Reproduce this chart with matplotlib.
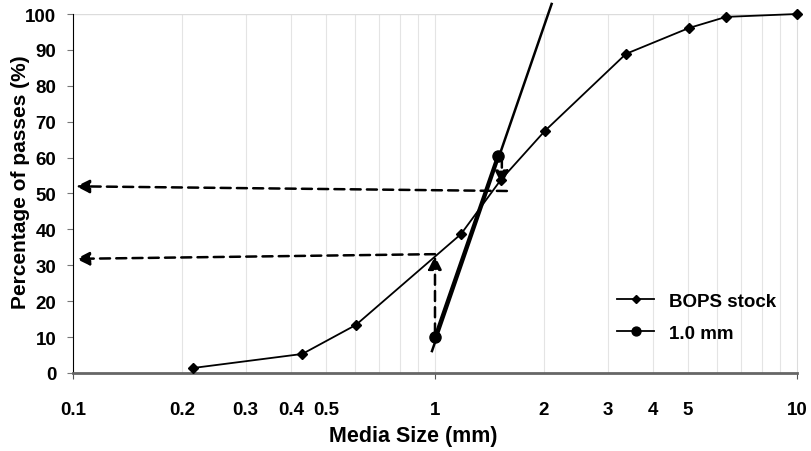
import numpy as np
import matplotlib.pyplot as plt

# ==========================================
# データ
# ==========================================

bops_size = [0.215, 0.43, 0.605, 1.18, 1.52, 2.01, 3.37, 5.03, 6.37, 10.0]
bops_pass = [1.4, 5.3, 13.4, 38.7, 53.8, 67.4, 88.9, 96.1, 99.2, 100.0]

mm_size = [1.0, 1.49]
mm_pass = [10.0, 60.4]

# 接線 (延長線)
tangent_size = [0.981, 2.10]
tangent_pass = [6.1, 102.8]

# 破線矢印 (始点x, 始点y, 終点x, 終点y)
arrow_from_x = [1.58, 1.0, 1.0, 1.53]
arrow_from_y = [50.7, 33.1, 11.0, 60.0]
arrow_to_x = [0.102, 0.102, 1.0, 1.53]
arrow_to_y = [52.0, 31.8, 32.6, 52.5]

major_x = [0.1, 1, 10]
major_labels = ["0.1", "1", "10"]
minor_x = [0.2, 0.3, 0.4, 0.5, 2, 3, 4, 5]
minor_labels = ["0.2", "0.3", "0.4", "0.5", "2", "3", "4", "5"]

# ==========================================
# 描画
# ==========================================

plt.rcParams["font.family"] = ["Liberation Sans", "DejaVu Sans"]
plt.rcParams["font.weight"] = "bold"

fig = plt.figure(figsize=(8.12, 4.52), dpi=100)
ax = fig.add_axes([0.0899, 0.1726, 0.8916, 0.7942])

ax.set_xscale("log")
ax.set_xlim(0.1, 10)
ax.set_ylim(0, 100)

# 縦グリッド
for dec in [0.1, 1]:
    for k in range(2, 10):
        ax.axvline(dec * k, color="#e4e4e4", lw=0.8, zorder=0)
ax.axvline(1, color="#e4e4e4", lw=0.8, zorder=0)
ax.axhline(100, color="#dcdcdc", lw=1.0, zorder=0)

ax.plot(bops_size, bops_pass, color="black", lw=1.3, marker="D",
        markersize=5, label="BOPS stock", zorder=3, clip_on=False)
ax.plot(mm_size, mm_pass, color="black", lw=2.4, marker="o",
        markersize=8, label="1.0 mm", zorder=3)
ax.plot(tangent_size, tangent_pass, color="black", lw=1.8,
        clip_on=False, zorder=3)

for fx, fy, tx, ty in zip(arrow_from_x, arrow_from_y, arrow_to_x, arrow_to_y):
    ax.annotate("", xy=(tx, ty), xytext=(fx, fy),
                arrowprops=dict(arrowstyle="-|>", linestyle=(0, (4, 2.5)),
                                color="black", lw=1.8, mutation_scale=20,
                                shrinkA=0, shrinkB=0),
                zorder=4)

ax.set_xticks(major_x)
ax.set_xticklabels(major_labels)
ax.set_xticks(minor_x, minor=True)
ax.set_xticklabels(minor_labels, minor=True)
ax.tick_params(axis="x", which="major", length=4, pad=16, color="#555555",
               labelsize=13.5)
ax.tick_params(axis="x", which="minor", length=0, pad=20, labelsize=13.5)
ax.set_yticks(range(0, 101, 10))
ax.tick_params(axis="y", labelsize=13.5, length=4, direction="out",
               color="#777777", pad=8)

ax.spines["top"].set_visible(False)
ax.spines["right"].set_color("#dcdcdc")
ax.spines["left"].set_color("black")
ax.spines["bottom"].set_color("#666666")
ax.spines["bottom"].set_linewidth(2.0)

ax.set_xlabel("Media Size (mm)", fontsize=15.5, fontweight="bold")
ax.xaxis.set_label_coords(0.47, -0.145)
ax.set_ylabel("Percentage of passes (%)", fontsize=15, fontweight="bold")
ax.yaxis.set_label_coords(-0.06, 0.535)

leg = ax.legend(loc="lower right", bbox_to_anchor=(0.995, 0.04),
                frameon=False, fontsize=13.5, handlelength=2.0,
                labelspacing=0.8, markerscale=0.8)
for t in leg.get_texts():
    t.set_fontweight("bold")
for h in leg.get_lines():
    h.set_linewidth(1.3)

fig.savefig("out.png", dpi=100)
